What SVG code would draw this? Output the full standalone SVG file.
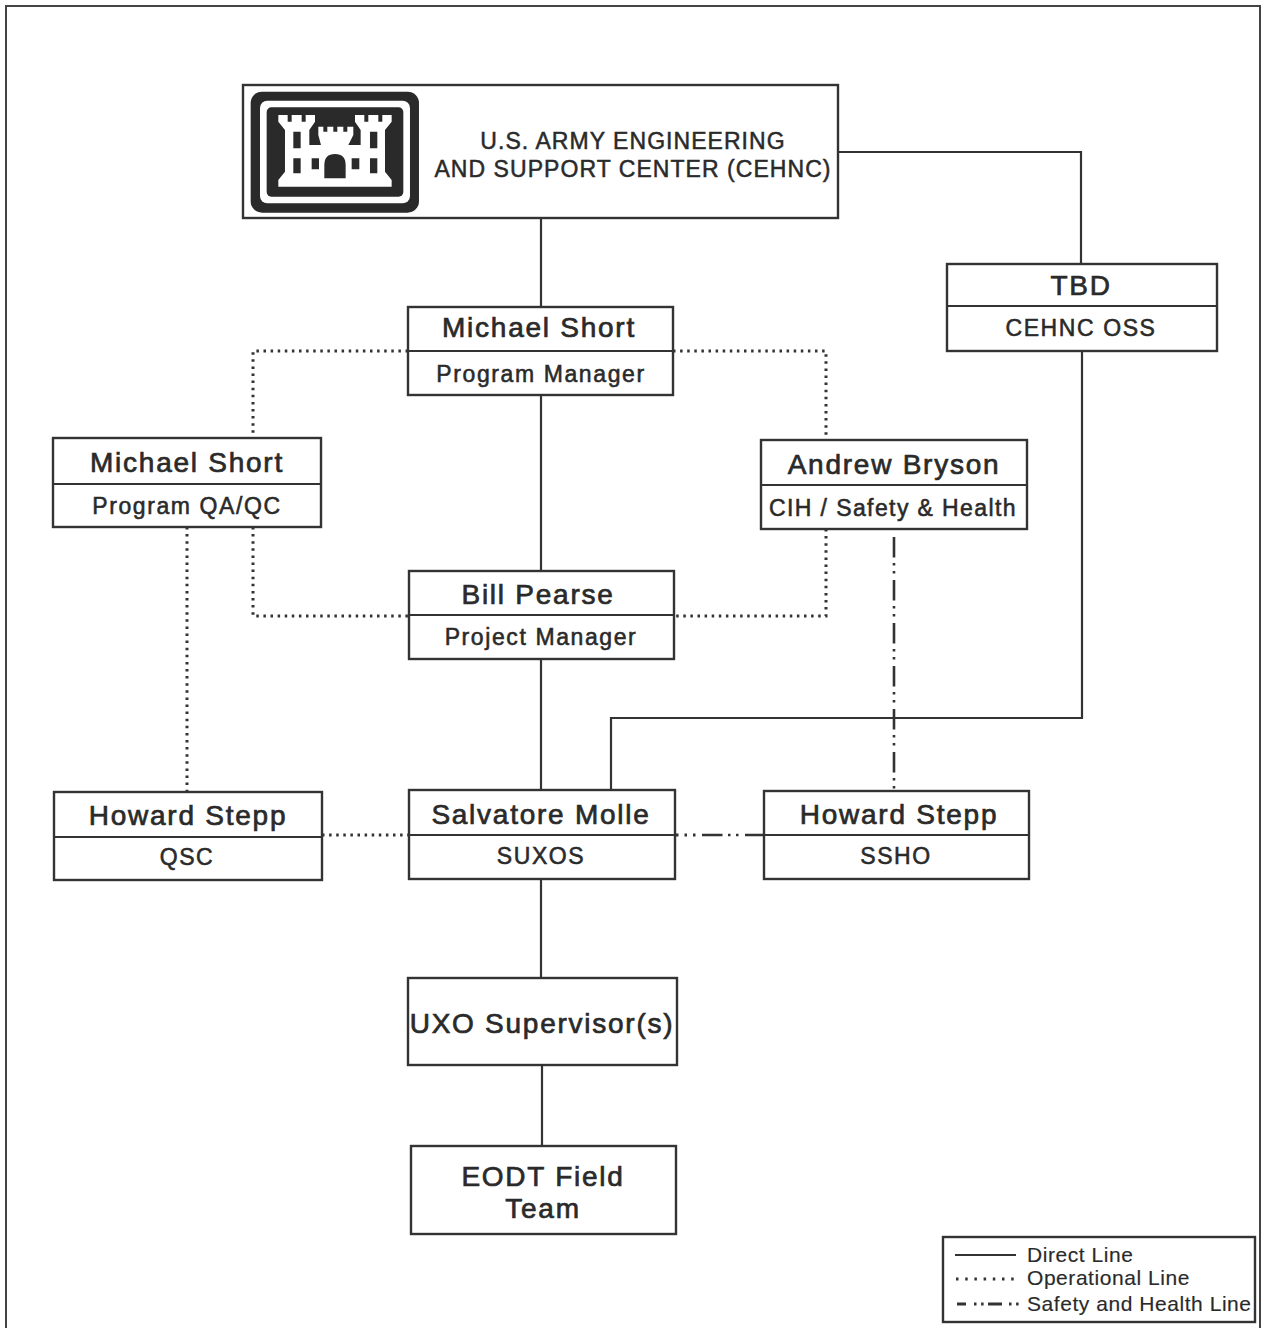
<svg xmlns="http://www.w3.org/2000/svg" width="1265" height="1328" viewBox="0 0 1265 1328">
<style>
text{font-family:"Liberation Sans",Arial,sans-serif;fill:#2a2a2a;text-anchor:middle}
.b{fill:#fff;stroke:#333;stroke-width:2.4}
.d{stroke:#333;stroke-width:2}
.n{font-size:28px;letter-spacing:1.75px;stroke:#2a2a2a;stroke-width:.7px}
.r{font-size:23px;letter-spacing:1.6px;stroke:#2a2a2a;stroke-width:.55px}
.t{font-size:23px;letter-spacing:1.05px;stroke:#2a2a2a;stroke-width:.5px}
.l{font-size:21px;text-anchor:start;letter-spacing:.55px;stroke:#2a2a2a;stroke-width:.15px}
.c{fill:none;stroke:#333}
.direct{stroke-width:2.2}
.op{stroke-width:3;stroke-dasharray:2.5 4.6}
.sh{stroke-width:2.6;stroke-dasharray:20.5 5.5 2.5 5.5 2.5 6.5}
</style>
<rect width="1265" height="1328" fill="#fff"/>
<path d="M6 1328V6H1260V1328" fill="none" stroke="#444" stroke-width="2"/>
<g id="connectors">
<path class="c direct" d="M541 218V307M838 152H1081V264M541 395V571M541 659V790M1082 351V718H611V790M541 879V978M542 1065V1146"/>
<path class="c op" d="M408 351H253V438M673 351H826V440M253 527V616H409M826 529V616H674M187 527V792M322 835H409"/>
<path class="c sh" d="M894 537V791M702 835H764"/>
<path class="c" style="stroke-width:3;stroke-dasharray:2.5 6" d="M676 835H696"/>
</g>
<g id="cehnc">
<rect class="b" x="243" y="85" width="595" height="133"/>
<g id="logo" transform="translate(240 80) scale(.3333)">
<rect x="32" y="35" width="505" height="363" rx="34" fill="#2a2a2a"/>
<rect x="60" y="62" width="450" height="308" rx="22" fill="#fff"/>
<rect x="80" y="82" width="410" height="268" rx="14" fill="#2a2a2a"/>
<path fill="#fff" d="M115 320V300L135 275V150L115 125V105H143V125H155V105H185V125H197V105H225V125L208 150V195H243L235 165V140H250V155H262V140H280V155H292V140H310V155H322V140H340V165L325 195H362V150L345 125V105H373V125H385V105H415V125H427V105H455V125L435 150V275L455 300V320Z"/>
<path fill="#fff" d="M135 195H435V300H135Z"/>
<path fill="#2a2a2a" d="M160 155H182V205H160ZM160 235H182V280H160ZM390 155H412V205H390ZM390 235H412V280H390ZM215 235H237V268H215ZM335 235H358V268H335ZM253 295V255Q253 222 285 222Q317 222 317 255V295Z"/>
</g>
<text class="t" x="633" y="149">U.S. ARMY ENGINEERING</text>
<text class="t" x="633" y="177">AND SUPPORT CENTER (CEHNC)</text>
</g>
<g id="tbd">
<rect class="b" x="947" y="264" width="270" height="87"/><path class="d" d="M947 306H1217"/>
<text class="n" x="1081" y="295">TBD</text><text class="r" x="1081" y="336">CEHNC OSS</text>
</g>
<g id="program-manager">
<rect class="b" x="408" y="307" width="265" height="88"/><path class="d" d="M408 351H673"/>
<text class="n" x="539" y="337">Michael Short</text><text class="r" x="541" y="382">Program Manager</text>
</g>
<g id="program-qa">
<rect class="b" x="53" y="438" width="268" height="89"/><path class="d" d="M53 484H321"/>
<text class="n" x="187" y="472">Michael Short</text><text class="r" x="187" y="514">Program QA/QC</text>
</g>
<g id="cih">
<rect class="b" x="761" y="440" width="266" height="89"/><path class="d" d="M761 485H1027"/>
<text class="n" x="894" y="474">Andrew Bryson</text><text class="r" x="893" y="516" style="letter-spacing:1.4px">CIH / Safety &amp; Health</text>
</g>
<g id="project-manager">
<rect class="b" x="409" y="571" width="265" height="88"/><path class="d" d="M409 615H674"/>
<text class="n" x="538" y="604">Bill Pearse</text><text class="r" x="541" y="645">Project Manager</text>
</g>
<g id="qsc">
<rect class="b" x="54" y="792" width="268" height="88"/><path class="d" d="M54 837H322"/>
<text class="n" x="188" y="825">Howard Stepp</text><text class="r" x="187" y="865">QSC</text>
</g>
<g id="suxos">
<rect class="b" x="409" y="790" width="266" height="89"/><path class="d" d="M409 835H675"/>
<text class="n" x="541" y="824">Salvatore Molle</text><text class="r" x="541" y="864">SUXOS</text>
</g>
<g id="ssho">
<rect class="b" x="764" y="791" width="265" height="88"/><path class="d" d="M764 835H1029"/>
<text class="n" x="899" y="824">Howard Stepp</text><text class="r" x="896" y="864">SSHO</text>
</g>
<g id="uxo">
<rect class="b" x="408" y="978" width="269" height="87"/>
<text class="n" x="542" y="1033">UXO Supervisor(s)</text>
</g>
<g id="eodt">
<rect class="b" x="411" y="1146" width="265" height="88"/>
<text class="n" x="543" y="1186">EODT Field</text><text class="n" x="543" y="1218">Team</text>
</g>
<g id="legend">
<rect class="b" x="943" y="1237" width="312" height="85"/>
<path class="c direct" d="M955 1255H1016"/>
<path class="c" style="stroke-width:3;stroke-dasharray:2.5 6.7" d="M956 1279H1016"/>
<path class="c" style="stroke-width:3" d="M957 1304H966M988 1304H1002"/>
<path class="c" style="stroke-width:3;stroke-dasharray:2.5 4.6" d="M974 1304H984M1009 1304H1019"/>
<text class="l" x="1027" y="1262">Direct Line</text>
<text class="l" x="1027" y="1285">Operational Line</text>
<text class="l" x="1027" y="1311">Safety and Health Line</text>
</g>
</svg>
